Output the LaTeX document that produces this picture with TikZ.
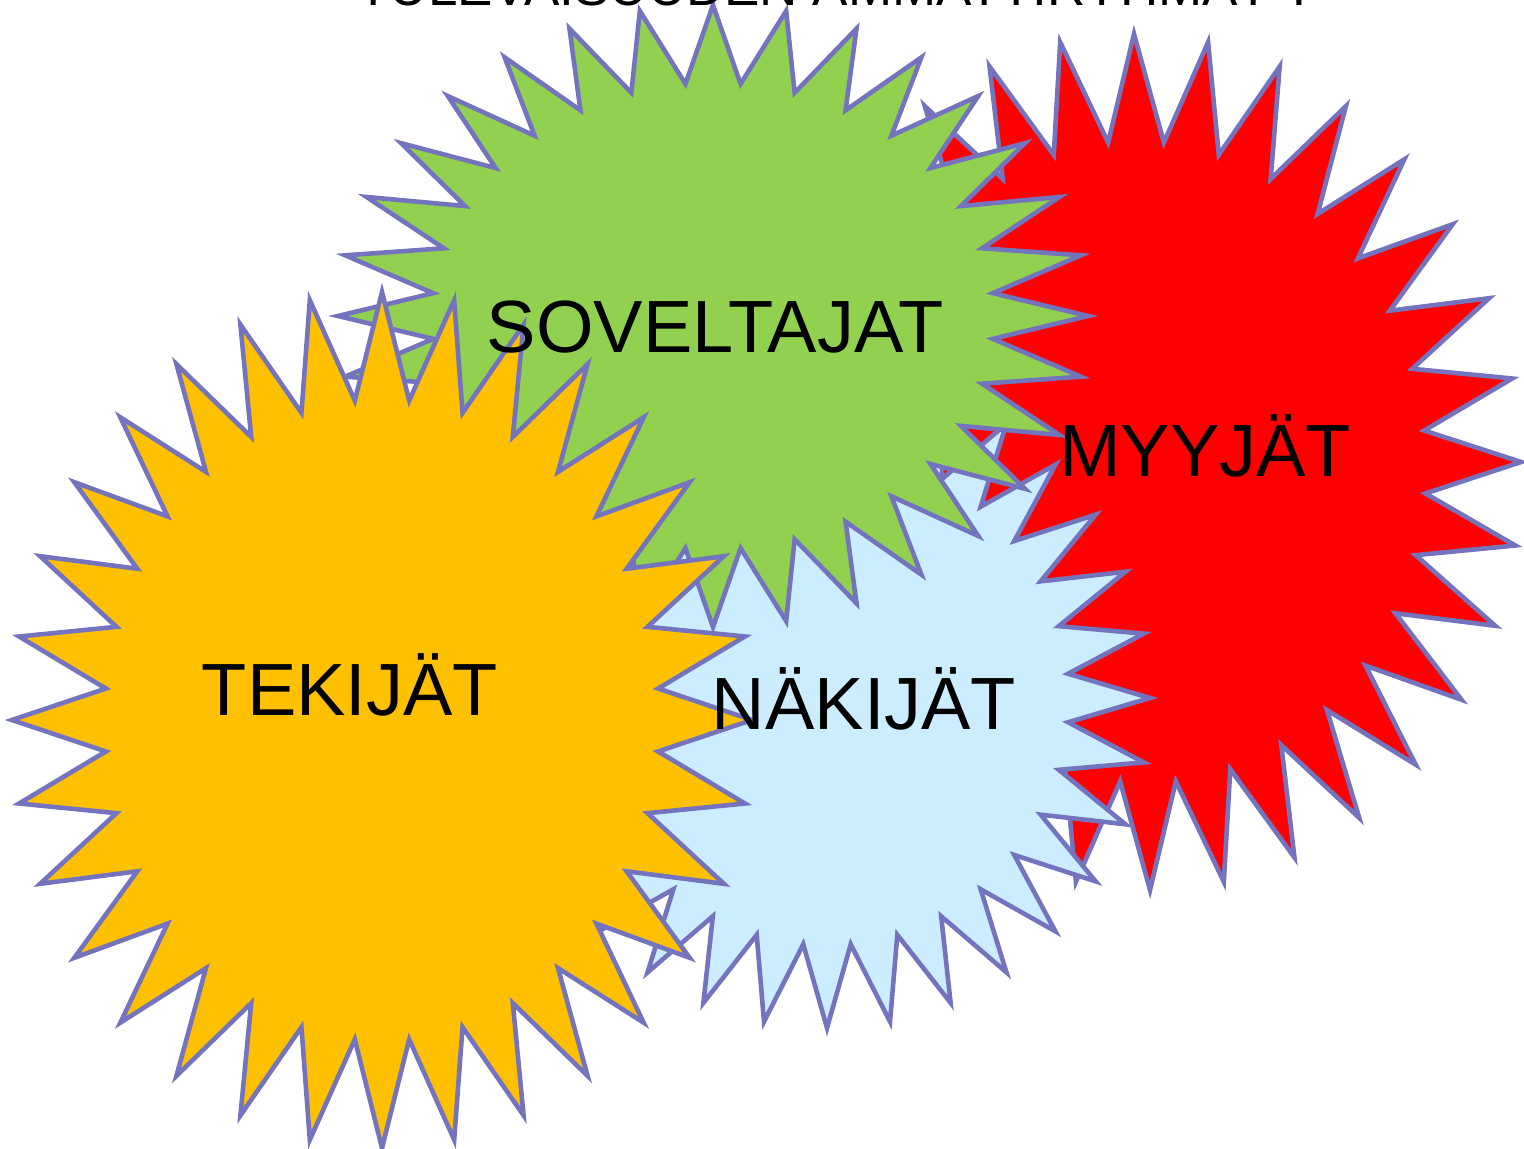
\documentclass[tikz,border=0pt]{standalone}
\usepackage{fontspec}
\setmainfont{Liberation Sans}
\definecolor{burstline}{RGB}{116,116,190}
\definecolor{cOrange}{RGB}{255,192,0}
\definecolor{cGreen}{RGB}{146,208,80}
\definecolor{cRed}{RGB}{255,0,0}
\definecolor{cBlue}{RGB}{204,236,255}
\tikzset{
  burst/.style={draw=burstline, line width=2.3pt, line join=miter, miter limit=20},
  label/.style={inner sep=0pt, anchor=base, font=\fontsize{37}{41}\selectfont},
  titletext/.style={inner sep=0pt, anchor=base, font=\fontsize{26.5}{30}\selectfont}
}
% #1 cx, #2 cy, #3 rx, #4 ry, #5 slant, #6 fill colour
\newcommand\drawburst[6]{%
  \draw[burst, fill=#6] plot[samples at={0,...,63}, variable=\k]
    ({#1 + #3*(1-0.25*mod(\k,2))*cos(\k*5.625) + #5*#4*(1-0.25*mod(\k,2))*sin(\k*5.625)},
     {#2 + #4*(1-0.25*mod(\k,2))*sin(\k*5.625)}) -- cycle;}
\begin{document}
\begin{tikzpicture}[x=0.5pt, y=-0.5pt]
\useasboundingbox (0,0) rectangle (1524,1149);
% red (MYYJÄT)
\drawburst{1142}{462}{379}{428}{0.0187}{cRed}
% light blue (NÄKIJÄT)
\drawburst{827}{698}{323}{330}{0}{cBlue}
% green (SOVELTAJAT)
\drawburst{713}{316}{375}{311}{0}{cGreen}
% orange (TEKIJÄT)
\drawburst{382}{720}{370}{428}{0}{cOrange}
% texts
\node[titletext] (title) at (836,6) {TULEVAISUUDEN AMMATTIRYHMÄT ?};
\node[label] (soveltajat) at (715,353) {SOVELTAJAT};
\node[label] (myyjat) at (1205,476) {MYYJÄT};
\node[label] (tekijat) at (350,715) {TEKIJÄT};
\node[label] (nakijat) at (864,729) {NÄKIJÄT};
\end{tikzpicture}
\end{document}
